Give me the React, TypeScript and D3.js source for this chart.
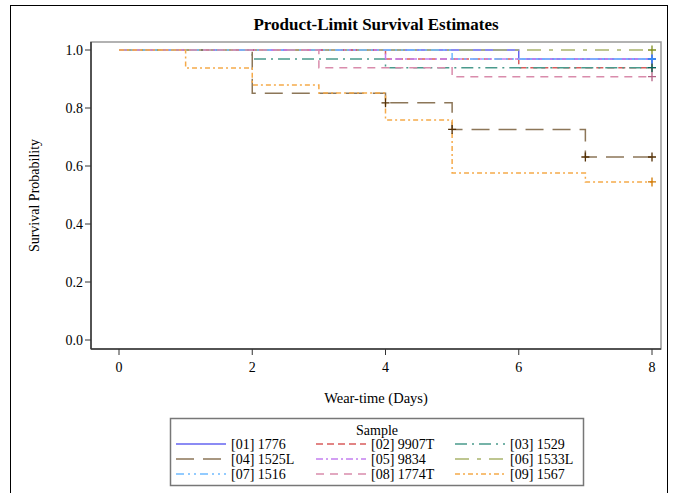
import * as d3 from 'd3';

// Kaplan-Meier step values: [day, survival]
const sampleNames = [
  '[01] 1776', '[02] 9907T', '[03] 1529',
  '[04] 1525L', '[05] 9834', '[06] 1533L',
  '[07] 1516', '[08] 1774T', '[09] 1567',
];
const steps01 = [[0, 1], [6, 0.969]];
const steps02 = [[0, 1], [4, 0.969], [6, 0.939]];
const steps03 = [[0, 1], [2, 0.969], [4, 0.939]];
const steps04 = [[0, 1], [2, 0.851], [4, 0.818], [5, 0.726], [7, 0.631]];
const steps05 = [[0, 1], [4, 0.969]];
const steps06 = [[0, 1]];
const steps07 = [[0, 1], [5, 0.969]];
const steps08 = [[0, 1], [3, 0.939], [5, 0.908]];
const steps09 = [[0, 1], [1, 0.938], [2, 0.879], [3, 0.852], [4, 0.759], [5, 0.576], [7, 0.545]];
const allSteps = [steps01, steps02, steps03, steps04, steps05, steps06, steps07, steps08, steps09];

// censored observation days per sample
const censorDays = [[8], [8], [8], [4, 5, 7, 8], [8], [8], [8], [8], [8]];
const lastDay = 8;

const xTicks = [0, 2, 4, 6, 8];
const yTicks = [0, 0.2, 0.4, 0.6, 0.8, 1.0];

const lineColors = ['#6464f0', '#d95c5c', '#4a9a8c', '#8c7658', '#c47ff0', '#a9b46c', '#6fbaff', '#d98cac', '#f5aa4a'];
const markColors = ['#445694', '#A23A2E', '#01665E', '#543005', '#9D3CDB', '#7F8E1F', '#2597FA', '#B26084', '#D17800'];
const dashes = ['none', '7,4', '12,5,2,5', '18,9', '7,3,2,3', '14,8,4,8', '8,4,2,4,2,4', '8,6', '5,3,2,3'];

const W = 678;
const H = 493;
const frame = { left: 91, right: 661, top: 42, bottom: 349 };

export default function App() {
  const x = d3.scaleLinear().domain([0, 8]).range([119, 652]);
  const y = d3.scaleLinear().domain([0, 1]).range([340, 50]);

  const line = d3
    .line<number[]>()
    .x((d) => x(d[0]))
    .y((d) => y(d[1]))
    .curve(d3.curveStepAfter);

  const font = '"Liberation Serif", "Times New Roman", serif';

  const valueAt = (s: number[][], t: number) => {
    let v = s[0][1];
    s.forEach((p) => {
      if (p[0] <= t) v = p[1];
    });
    return v;
  };

  const legendX = [176, 316, 455];
  const legendY = [444, 459, 474];

  return (
    <div style={{ position: 'absolute', left: 0, top: 0 }}>
      <svg width={W} height={H} style={{ display: 'block', fontFamily: font }}>
        <rect x={0} y={0} width={W} height={H} fill="#fff" />
        <rect x={10.5} y={5.5} width={657} height={520} fill="none" stroke="#000" strokeWidth={1} />

        <text x={(frame.left + frame.right) / 2} y={30} textAnchor="middle" fontSize={17} fontWeight="bold">
          Product-Limit Survival Estimates
        </text>

        {/* plot frame */}
        <rect
          x={frame.left}
          y={frame.top}
          width={frame.right - frame.left}
          height={frame.bottom - frame.top}
          fill="none"
          stroke="#999"
          strokeWidth={1.5}
        />
        <line x1={frame.left} x2={frame.left} y1={frame.top} y2={frame.bottom} stroke="#333" strokeWidth={1.5} />
        <line x1={frame.left} x2={frame.right} y1={frame.bottom} y2={frame.bottom} stroke="#333" strokeWidth={1.5} />

        {/* y axis */}
        {yTicks.map((t) => (
          <g key={t} transform={`translate(0,${y(t)})`}>
            <line x1={frame.left - 6} x2={frame.left} stroke="#333" />
            <text x={frame.left - 8} dy="0.33em" textAnchor="end" fontSize={14}>
              {d3.format('.1f')(t)}
            </text>
          </g>
        ))}
        <text
          transform={`translate(39,${(frame.top + frame.bottom) / 2}) rotate(-90)`}
          textAnchor="middle"
          fontSize={14}
        >
          Survival Probability
        </text>

        {/* x axis */}
        {xTicks.map((t) => (
          <g key={t} transform={`translate(${x(t)},0)`}>
            <line y1={frame.bottom} y2={frame.bottom + 6} stroke="#333" />
            <text y={frame.bottom + 23} textAnchor="middle" fontSize={14}>
              {t}
            </text>
          </g>
        ))}
        <text x={(frame.left + frame.right) / 2} y={403} textAnchor="middle" fontSize={14.5}>
          Wear-time (Days)
        </text>

        {/* survival curves */}
        {allSteps.map((s, i) => (
          <path
            key={i}
            d={line([...s, [lastDay, s[s.length - 1][1]]]) || ''}
            fill="none"
            stroke={lineColors[i]}
            strokeWidth={1.5}
            strokeDasharray={dashes[i]}
          />
        ))}

        {/* censored marks */}
        {censorDays.map((days, i) =>
          days.map((t) => {
            const cx = x(t);
            const cy = y(valueAt(allSteps[i], t));
            return (
              <path
                key={`${i}-${t}`}
                d={`M${cx - 4},${cy}H${cx + 4}M${cx},${cy - 4.5}V${cy + 4.5}`}
                stroke={markColors[i]}
                strokeWidth={1.3}
              />
            );
          })
        )}

        {/* legend */}
        <rect x={170.5} y={418.5} width={413} height={67} fill="#fff" stroke="#777" strokeWidth={1.5} />
        <text x={377} y={435} textAnchor="middle" fontSize={14}>
          Sample
        </text>
        {sampleNames.map((name, i) => {
          const lx = legendX[i % 3];
          const ly = legendY[Math.floor(i / 3)];
          return (
            <g key={name}>
              <line
                x1={lx}
                x2={lx + 50}
                y1={ly}
                y2={ly}
                stroke={lineColors[i]}
                strokeWidth={1.5}
                strokeDasharray={dashes[i]}
              />
              <text x={lx + 55} y={ly} dy="0.33em" fontSize={14}>
                {name}
              </text>
            </g>
          );
        })}
      </svg>
    </div>
  );
}
